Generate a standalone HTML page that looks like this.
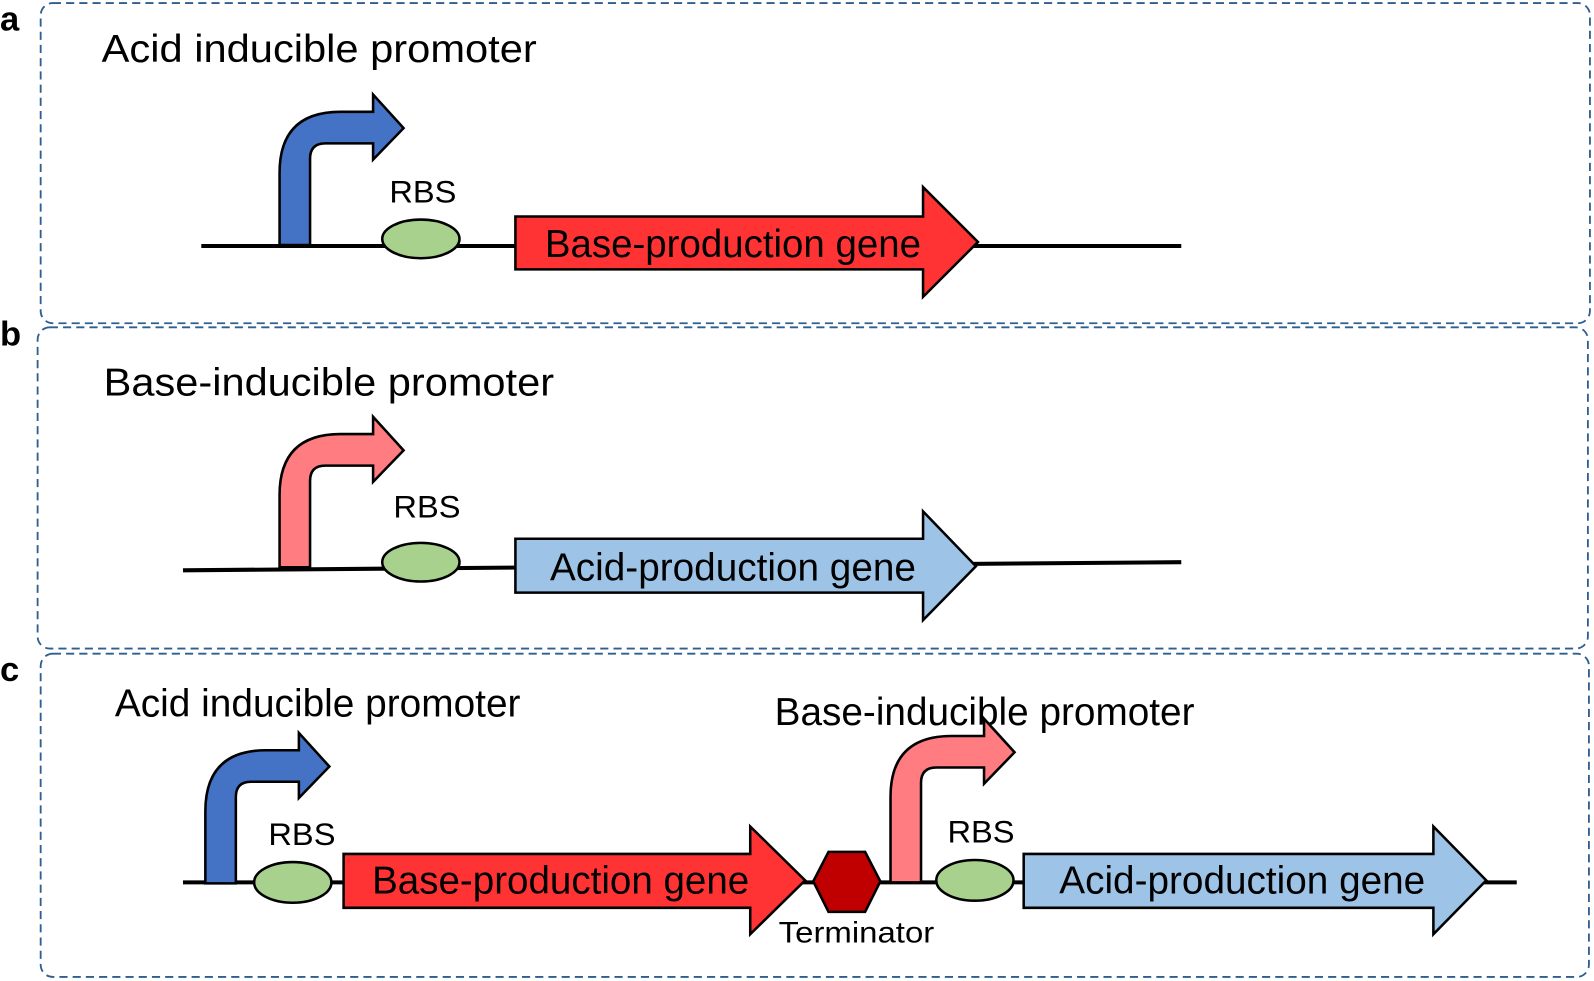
<!DOCTYPE html>
<html><head><meta charset="utf-8"><style>html,body{margin:0;padding:0;background:#fff}svg{display:block}</style></head>
<body>
<svg width="1594" height="981" viewBox="0 0 1568 965" preserveAspectRatio="none" xmlns="http://www.w3.org/2000/svg" font-family="Liberation Sans, Arial, sans-serif">
<g fill="none" stroke="#2e5f8f" stroke-width="1.8" stroke-dasharray="8 5">
<rect x="40" y="3" width="1524" height="315" rx="12"/>
<rect x="37" y="322" width="1525" height="316" rx="12"/>
<rect x="40" y="643" width="1523" height="318" rx="12"/>
</g>
<g font-weight="bold" font-size="34" fill="#000">
<text x="0" y="30">a</text><text x="0" y="340">b</text><text x="0" y="670">c</text>
</g>
<g font-size="38" fill="#000" lengthAdjust="spacingAndGlyphs">
<text x="100" y="61" textLength="428" lengthAdjust="spacingAndGlyphs">Acid inducible promoter</text>
<text x="102" y="389" textLength="443" lengthAdjust="spacingAndGlyphs">Base-inducible promoter</text>
<text x="113" y="705" textLength="399" lengthAdjust="spacingAndGlyphs">Acid inducible promoter</text>
<text x="762" y="713" textLength="413" lengthAdjust="spacingAndGlyphs">Base-inducible promoter</text>
</g>
<g stroke="#000" stroke-width="4">
<line x1="198" y1="242" x2="1162" y2="242"/>
<line x1="180" y1="561" x2="1162" y2="553"/>
<line x1="180" y1="868" x2="1492" y2="868"/>
</g>
<g stroke="#000" stroke-width="2.5">
<path fill="#4472c4" d="M275,241 V170 Q275,110 335,110 H367 V93 L397,126 L367,157 V141 H320 Q305,141 305,156 V241Z"/>
<path fill="#ff7c80" d="M275,558 V487 Q275,427 335,427 H367 V410 L397,443 L367,474 V458 H320 Q305,458 305,473 V558Z"/>
<path fill="#4472c4" d="M202,869 V798 Q202,738 262,738 H294 V721 L324,754 L294,785 V769 H247 Q232,769 232,784 V869Z"/>
<path fill="#ff7c80" d="M876,868 V784 Q876,724 936,724 H968 V707 L998,740 L968,771 V755 H921 Q906,755 906,770 V868Z"/>
<ellipse cx="414" cy="235" rx="38" ry="19" fill="#a9d18e"/>
<ellipse cx="414" cy="553" rx="38" ry="19" fill="#a9d18e"/>
<ellipse cx="288" cy="868" rx="38" ry="20" fill="#a9d18e"/>
<ellipse cx="959" cy="866" rx="38" ry="20" fill="#a9d18e"/>
<path fill="#ff3333" d="M507,213 H908 V184 L962,238 L908,292 V265 H507Z"/>
<path fill="#9dc3e6" d="M507,530 H908 V503 L960,557 L908,610 V583 H507Z"/>
<path fill="#ff3333" d="M338,840 H738 V813 L792,866 L738,919 V893 H338Z"/>
<path fill="#9dc3e6" d="M1007,840 H1410 V813 L1462,866 L1410,919 V893 H1007Z"/>
<polygon fill="#c00000" points="800,867 815,838 851,838 866,867 851,897 815,897"/>
</g>
<g font-size="31" fill="#000">
<text x="383" y="199" textLength="66" lengthAdjust="spacingAndGlyphs">RBS</text>
<text x="387" y="509" textLength="66" lengthAdjust="spacingAndGlyphs">RBS</text>
<text x="264" y="831" textLength="66" lengthAdjust="spacingAndGlyphs">RBS</text>
<text x="932" y="829" textLength="66" lengthAdjust="spacingAndGlyphs">RBS</text>
<text x="766" y="927" font-size="29" textLength="153" lengthAdjust="spacingAndGlyphs">Terminator</text>
</g>
<g font-size="38" fill="#000">
<text x="536" y="253" textLength="370" lengthAdjust="spacingAndGlyphs">Base-production gene</text>
<text x="541" y="571" textLength="360" lengthAdjust="spacingAndGlyphs">Acid-production gene</text>
<text x="366" y="879" textLength="371" lengthAdjust="spacingAndGlyphs">Base-production gene</text>
<text x="1042" y="879" textLength="360" lengthAdjust="spacingAndGlyphs">Acid-production gene</text>
</g>
</svg>
</body></html>
